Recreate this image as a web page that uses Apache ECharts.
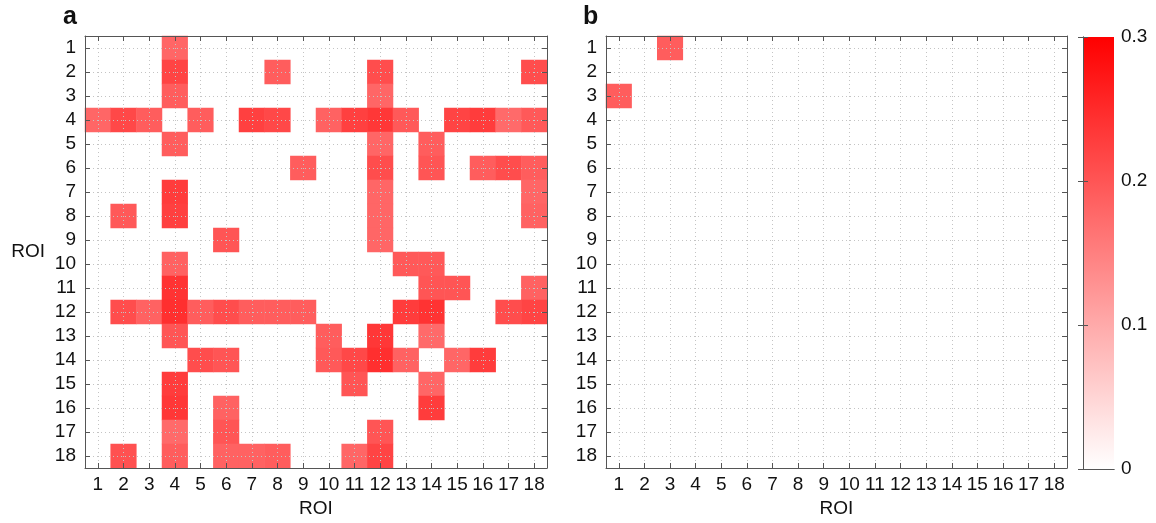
<!DOCTYPE html>
<html><head><meta charset="utf-8">
<script src="https://cdn.jsdelivr.net/npm/echarts@6/dist/echarts.min.js"></script>
<style>html,body{margin:0;padding:0;background:#fff}#c{width:1156px;height:523px}</style>
</head><body><div id="c"></div>
<script>
const roiLabels = ['1','2','3','4','5','6','7','8','9','10','11','12','13','14','15','16','17','18'];
const panelLetters = ['a', 'b'];
const axisName = 'ROI';
const colorMin = 0, colorMax = 0.3, colorStep = 0.1;
// rows = ROI 1..18 (top to bottom), columns = ROI 1..18 (left to right)
const matrixA = [
  [0,0,0,.18,0,0,0,0,0,0,0,0,0,0,0,0,0,0],
  [0,0,0,.22,0,0,0,.19,0,0,0,.21,0,0,0,0,0,.21],
  [0,0,0,.19,0,0,0,0,0,0,0,.18,0,0,0,0,0,0],
  [.18,.215,.19,0,.19,0,.225,.215,0,.185,.225,.235,.195,0,.22,.23,.175,.195],
  [0,0,0,.19,0,0,0,0,0,0,0,.18,0,.19,0,0,0,0],
  [0,0,0,0,0,0,0,0,.19,0,0,.21,0,.2,0,.19,.21,.19],
  [0,0,0,.23,0,0,0,0,0,0,0,.18,0,0,0,0,0,.18],
  [0,.195,0,.225,0,0,0,0,0,0,0,.18,0,0,0,0,0,.185],
  [0,0,0,0,0,.2,0,0,0,0,0,.18,0,0,0,0,0,0],
  [0,0,0,.185,0,0,0,0,0,0,0,0,.195,.195,0,0,0,0],
  [0,0,0,.24,0,0,0,0,0,0,0,0,0,.2,.2,0,0,.185],
  [0,.21,.185,.245,.19,.21,.19,.19,.19,0,0,0,.23,.24,0,0,.21,.22],
  [0,0,0,.2,0,0,0,0,0,.19,0,.235,0,.175,0,0,0,0],
  [0,0,0,0,.21,.2,0,0,0,.195,.215,.245,.185,0,.18,.23,0,0],
  [0,0,0,.23,0,0,0,0,0,0,.2,0,0,.18,0,0,0,0],
  [0,0,0,.235,0,.185,0,0,0,0,0,0,0,.23,0,0,0,0],
  [0,0,0,.175,0,.2,0,0,0,0,0,.2,0,0,0,0,0,0],
  [0,.205,0,.19,0,.185,.185,.19,0,0,.18,.22,0,0,0,0,0,0]
];
const matrixB = [
  [0,0,.19,0,0,0,0,0,0,0,0,0,0,0,0,0,0,0],
  [0,0,0,0,0,0,0,0,0,0,0,0,0,0,0,0,0,0],
  [.19,0,0,0,0,0,0,0,0,0,0,0,0,0,0,0,0,0],
  [0,0,0,0,0,0,0,0,0,0,0,0,0,0,0,0,0,0],
  [0,0,0,0,0,0,0,0,0,0,0,0,0,0,0,0,0,0],
  [0,0,0,0,0,0,0,0,0,0,0,0,0,0,0,0,0,0],
  [0,0,0,0,0,0,0,0,0,0,0,0,0,0,0,0,0,0],
  [0,0,0,0,0,0,0,0,0,0,0,0,0,0,0,0,0,0],
  [0,0,0,0,0,0,0,0,0,0,0,0,0,0,0,0,0,0],
  [0,0,0,0,0,0,0,0,0,0,0,0,0,0,0,0,0,0],
  [0,0,0,0,0,0,0,0,0,0,0,0,0,0,0,0,0,0],
  [0,0,0,0,0,0,0,0,0,0,0,0,0,0,0,0,0,0],
  [0,0,0,0,0,0,0,0,0,0,0,0,0,0,0,0,0,0],
  [0,0,0,0,0,0,0,0,0,0,0,0,0,0,0,0,0,0],
  [0,0,0,0,0,0,0,0,0,0,0,0,0,0,0,0,0,0],
  [0,0,0,0,0,0,0,0,0,0,0,0,0,0,0,0,0,0],
  [0,0,0,0,0,0,0,0,0,0,0,0,0,0,0,0,0,0],
  [0,0,0,0,0,0,0,0,0,0,0,0,0,0,0,0,0,0]
];

function toCells(m) {
  const out = [];
  m.forEach((row, r) => row.forEach((v, c) => { if (v > 0) out.push([c, r, v]); }));
  return out;
}

const FONT = 'Liberation Sans, Arial, sans-serif';
const AX = '#555';
const grids = [
  { left: 85, top: 36, width: 462, height: 434 },
  { left: 606, top: 36, width: 461, height: 434 }
];
const xAxes = [], yAxes = [], series = [];
const tickBase = { show: true, inside: true, length: 5, alignWithLabel: true, lineStyle: { color: AX } };
const splitBase = { show: true, alignWithLabel: true, lineStyle: { color: '#c4c4c4', type: [1, 3], width: 1 } };
[matrixA, matrixB].forEach((m, i) => {
  xAxes.push({ type: 'category', gridIndex: i, data: roiLabels, position: 'bottom', z: 3,
    axisLine: { lineStyle: { color: AX } }, axisTick: tickBase, splitLine: splitBase,
    axisLabel: { interval: 0, color: '#111', fontSize: 19, fontFamily: FONT, margin: 7 },
    name: axisName, nameLocation: 'middle', nameGap: 31,
    nameTextStyle: { color: '#111', fontSize: 19, fontFamily: FONT } });
  xAxes.push({ type: 'category', gridIndex: i, data: roiLabels, position: 'top', z: 3,
    axisLine: { lineStyle: { color: AX } }, axisTick: tickBase, axisLabel: { show: false }, splitLine: { show: false } });
  const yMain = { type: 'category', gridIndex: i, data: roiLabels, inverse: true, position: 'left', z: 3,
    axisLine: { lineStyle: { color: AX } }, axisTick: tickBase, splitLine: splitBase,
    axisLabel: { interval: 0, color: '#111', fontSize: 19, fontFamily: FONT, margin: 9 } };
  if (i === 0) {
    yMain.name = axisName; yMain.nameLocation = 'middle'; yMain.nameRotate = 0; yMain.nameGap = 40;
    yMain.nameTextStyle = { color: '#111', fontSize: 19, fontFamily: FONT };
  }
  yAxes.push(yMain);
  yAxes.push({ type: 'category', gridIndex: i, data: roiLabels, inverse: true, position: 'right', z: 3,
    axisLine: { lineStyle: { color: AX } }, axisTick: tickBase, axisLabel: { show: false }, splitLine: { show: false } });
  series.push({ type: 'heatmap', xAxisIndex: i * 2, yAxisIndex: i * 2, data: toCells(m), z: 2,
    itemStyle: { borderWidth: 0 }, emphasis: { disabled: true }, progressive: 0 });
});

// colorbar grid
grids.push({ left: 1083, top: 37, width: 31, height: 432, show: true, borderWidth: 0,
  backgroundColor: new echarts.graphic.LinearGradient(0, 0, 0, 1, [
    { offset: 0, color: '#ff0000' }, { offset: 1, color: '#ffffff' }]) });
xAxes.push({ type: 'value', gridIndex: 2, min: 0, max: 1, position: 'bottom', z: 3,
  axisLine: { show: true, lineStyle: { color: AX } }, axisTick: { show: false }, axisLabel: { show: false }, splitLine: { show: false } });
xAxes.push({ type: 'value', gridIndex: 2, min: 0, max: 1, position: 'top', z: 3,
  axisLine: { show: true, lineStyle: { color: AX } }, axisTick: { show: false }, axisLabel: { show: false }, splitLine: { show: false } });
yAxes.push({ type: 'value', gridIndex: 2, min: colorMin, max: colorMax, interval: colorStep, position: 'left', z: 3,
  axisLine: { show: true, lineStyle: { color: AX } }, axisTick: { show: true, inside: true, length: 5, lineStyle: { color: AX } },
  axisLabel: { show: false }, splitLine: { show: false } });
yAxes.push({ type: 'value', gridIndex: 2, min: colorMin, max: colorMax, interval: colorStep, position: 'right', z: 3,
  axisLine: { show: true, lineStyle: { color: AX } }, axisTick: { show: true, inside: true, length: 5, lineStyle: { color: AX } },
  axisLabel: { show: true, color: '#111', fontSize: 19, fontFamily: FONT, margin: 7, formatter: v => String(Math.round(v * 10) / 10) },
  splitLine: { show: false } });
series.push({ type: 'scatter', xAxisIndex: 4, yAxisIndex: 4, data: [], silent: true });

const chart = echarts.init(document.getElementById('c'), null, { renderer: 'canvas' });
chart.setOption({
  animation: false,
  backgroundColor: '#ffffff',
  grid: grids,
  xAxis: xAxes,
  yAxis: yAxes,
  visualMap: { type: 'continuous', show: false, min: colorMin, max: colorMax, seriesIndex: [0, 1],
    inRange: { color: ['#ffffff', '#ff0000'] } },
  graphic: [
    { type: 'text', left: 63, top: 5, style: { text: panelLetters[0], font: 'bold 25px ' + FONT, fill: '#111' } },
    { type: 'text', left: 583, top: 5, style: { text: panelLetters[1], font: 'bold 25px ' + FONT, fill: '#111' } }
  ],
  series: series
});
</script></body></html>
